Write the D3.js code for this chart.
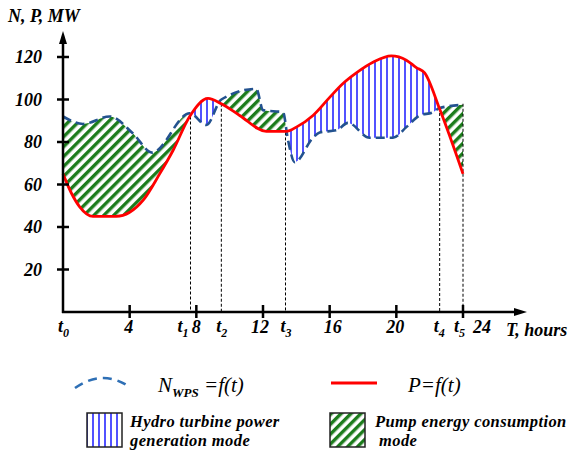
<!DOCTYPE html>
<html>
<head>
<meta charset="utf-8">
<script src="https://cdn.jsdelivr.net/npm/d3@7"></script>
<style>
  body { margin: 0; background: #fff; }
</style>
</head>
<body>
<svg id="chart" width="569" height="452"></svg>
<script>
// P = f(t), load curve
const pHours  = [0, 0.5, 1, 1.8, 3.2, 4.8, 5.8, 6.6, 7.6, 8.7, 9.5, 10.6, 12.2, 13.4, 14.0, 15.0, 16.0, 16.8, 17.6, 18.6, 19.7, 20.6, 21.2, 21.7, 22.6, 24];
const pValues = [65, 56, 49.5, 45, 45, 52.5, 65, 76, 92, 100.5, 98, 92.5, 85, 85, 87, 92.5, 101, 107.5, 112.5, 117.5, 120.5, 118.5, 115, 112.5, 95.5, 65];

// N_WPS = f(t), wind power plant output
const nHours  = [0, 1.2, 2.8, 4.2, 5.35, 7.6, 8.6, 9.5, 11.6, 12.0, 13.2, 13.5, 13.9, 15.0, 15.4, 16.4, 17.1, 18.4, 19.8, 20.6, 21.4, 22.2, 22.6, 24];
const nValues = [92, 88.5, 92, 84, 75, 93.5, 88, 100, 105, 95, 94, 81, 70.5, 82, 84.5, 85.5, 89, 82, 82, 87, 92.5, 94, 96, 97.5];

const yTicks = [20, 40, 60, 80, 100, 120];
const xTicks = [4, 8, 12, 16, 20, 24];
const xTickLabels = ['4', '8', '12', '16', '20', '24'];

// switching moments t0..t5 and the level where the dotted guide starts
const tNames  = ['0', '1', '2', '3', '4', '5'];
const tHours  = [0, 7.65, 9.5, 13.35, 22.6, 24];
const tLevels = [null, 92, 98, 84.5, 96, 98];

const FONT = '"Liberation Serif", "Times New Roman", Times, serif';

// ----------------------------------------------
// Setup
// ----------------------------------------------
const svg = d3.select('#chart');
const x = d3.scaleLinear().domain([0, 24]).range([63, 463]);
const y = d3.scaleLinear().domain([0, 120]).range([312, 57]);
const base = y(0);

const pData = pHours.map((h, i) => ({ h, v: pValues[i] }));
const nData = nHours.map((h, i) => ({ h, v: nValues[i] }));

const defs = svg.append('defs');

const green = defs.append('pattern')
  .attr('id', 'hatchGreen')
  .attr('patternUnits', 'userSpaceOnUse')
  .attr('width', 7).attr('height', 7)
  .attr('patternTransform', 'rotate(45)');
green.append('rect').attr('width', 7).attr('height', 7).attr('fill', '#fff');
green.append('rect').attr('width', 3.4).attr('height', 7).attr('fill', '#1c7c1c');

const blue = defs.append('pattern')
  .attr('id', 'hatchBlue')
  .attr('patternUnits', 'userSpaceOnUse')
  .attr('width', 6).attr('height', 10);
blue.append('rect').attr('width', 6).attr('height', 10).attr('fill', '#fff');
blue.append('line')
  .attr('x1', 3).attr('x2', 3).attr('y1', 0).attr('y2', 10)
  .attr('stroke', '#2626ff').attr('stroke-width', 1.6);

const pCurve = d3.curveMonotoneX;
const nCurve = d3.curveMonotoneX;

// clip regions below / above the wind curve
defs.append('clipPath').attr('id', 'belowN')
  .append('path')
  .attr('d', d3.area().x(d => x(d.h)).y0(base).y1(d => y(d.v)).curve(nCurve)(nData));
defs.append('clipPath').attr('id', 'aboveN')
  .append('path')
  .attr('d', d3.area().x(d => x(d.h)).y0(0).y1(d => y(d.v)).curve(nCurve)(nData));

// ----------------------------------------------
// Mode areas
// ----------------------------------------------
// pump mode: N above P
svg.append('path')
  .attr('d', d3.area().x(d => x(d.h)).y0(0).y1(d => y(d.v)).curve(pCurve)(pData))
  .attr('fill', 'url(#hatchGreen)')
  .attr('clip-path', 'url(#belowN)');

// turbine mode: P above N
svg.append('path')
  .attr('d', d3.area().x(d => x(d.h)).y0(base).y1(d => y(d.v)).curve(pCurve)(pData))
  .attr('fill', 'url(#hatchBlue)')
  .attr('clip-path', 'url(#aboveN)');

// dotted guides
svg.append('g')
  .selectAll('line')
  .data(tHours.map((h, i) => ({ h, v: tLevels[i] })).filter(d => d.v !== null))
  .join('line')
  .attr('x1', d => x(d.h)).attr('x2', d => x(d.h))
  .attr('y1', d => y(d.v)).attr('y2', base)
  .attr('stroke', '#000')
  .attr('stroke-width', 1)
  .attr('stroke-dasharray', '3,2');

// curves
svg.append('path')
  .attr('d', d3.line().x(d => x(d.h)).y(d => y(d.v)).curve(nCurve)(nData))
  .attr('fill', 'none')
  .attr('stroke', '#23528f')
  .attr('stroke-width', 2.6)
  .attr('stroke-dasharray', '9,5');

svg.append('path')
  .attr('d', d3.line().x(d => x(d.h)).y(d => y(d.v)).curve(pCurve)(pData))
  .attr('fill', 'none')
  .attr('stroke', '#ff0000')
  .attr('stroke-width', 2.8);

// ----------------------------------------------
// Axes
// ----------------------------------------------
const axis = svg.append('g').attr('stroke', '#000').attr('stroke-width', 2.5);
axis.append('line').attr('x1', x(0)).attr('x2', x(0)).attr('y1', base + 1).attr('y2', 42);
axis.append('line').attr('x1', x(0) - 1).attr('x2', 517).attr('y1', base).attr('y2', base);
svg.append('path')
  .attr('d', `M${x(0)},31 L${x(0) - 4},44 L${x(0) + 4},44 Z`)
  .attr('fill', '#000');
svg.append('path')
  .attr('d', `M527,${base} L514,${base - 4} L514,${base + 4} Z`)
  .attr('fill', '#000');

axis.selectAll('.ytick')
  .data(yTicks)
  .join('line')
  .attr('x1', x(0) - 6).attr('x2', x(0) + 6)
  .attr('y1', d => y(d)).attr('y2', d => y(d));

axis.selectAll('.xtick')
  .data(xTicks)
  .join('line')
  .attr('x1', d => x(d)).attr('x2', d => x(d))
  .attr('y1', base - 7).attr('y2', base + 6);

const labelStyle = sel => sel
  .style('font-family', FONT)
  .attr('font-size', 18)
  .attr('font-weight', 'bold')
  .attr('font-style', 'italic')
  .attr('fill', '#000');

svg.append('g')
  .selectAll('text')
  .data(yTicks)
  .join('text')
  .attr('x', 42)
  .attr('y', d => y(d) + 6)
  .attr('text-anchor', 'end')
  .call(labelStyle)
  .text(d => d);

// numbers; 24 is pushed right to leave room for t5
const xLabelShift = [-1, 0, -3, 3, -1, 19];
svg.append('g')
  .selectAll('text')
  .data(xTicks)
  .join('text')
  .attr('x', (d, i) => x(d) + xLabelShift[i])
  .attr('y', 333)
  .attr('text-anchor', 'middle')
  .call(labelStyle)
  .text((d, i) => xTickLabels[i]);

// t labels
const tLabelShift = [-5, -13, -5, -5, -6, -9];
const tl = svg.append('g')
  .selectAll('text')
  .data(tNames)
  .join('text')
  .attr('x', (d, i) => x(tHours[i]) + tLabelShift[i])
  .attr('y', 332)
  .call(labelStyle);
tl.append('tspan').text('t');
tl.append('tspan').attr('font-size', 12).attr('dy', 5).text(d => d);

svg.append('text')
  .attr('x', 506).attr('y', 336)
  .call(labelStyle)
  .text('T, hours');

svg.append('text')
  .attr('x', 8).attr('y', 22)
  .call(labelStyle)
  .text('N, P, MW');

// ----------------------------------------------
// Legend
// ----------------------------------------------
svg.append('path')
  .attr('d', 'M75,388 Q102,369 128,386')
  .attr('fill', 'none')
  .attr('stroke', '#2e6fb5')
  .attr('stroke-width', 2.6)
  .attr('stroke-dasharray', '9,6');

const nLeg = svg.append('text')
  .attr('x', 158).attr('y', 392)
  .style('font-family', FONT)
  .attr('font-size', 21)
  .attr('font-style', 'italic');
nLeg.append('tspan').text('N');
nLeg.append('tspan').attr('font-size', 13).attr('font-weight', 'bold').attr('dy', 5).text('WPS');
nLeg.append('tspan').attr('dy', -5).text(' =f(t)');

svg.append('line')
  .attr('x1', 331).attr('x2', 377).attr('y1', 383).attr('y2', 383)
  .attr('stroke', '#ff0000').attr('stroke-width', 3);

svg.append('text')
  .attr('x', 408).attr('y', 392)
  .style('font-family', FONT)
  .attr('font-size', 21)
  .attr('font-style', 'italic')
  .text('P=f(t)');

svg.append('rect')
  .attr('x', 87).attr('y', 413).attr('width', 35).attr('height', 34)
  .attr('fill', 'url(#hatchBlue)')
  .attr('stroke', '#222').attr('stroke-width', 1.5);
svg.append('rect')
  .attr('x', 330).attr('y', 413).attr('width', 35).attr('height', 34)
  .attr('fill', 'url(#hatchGreen)')
  .attr('stroke', '#222').attr('stroke-width', 1.5);

const legText = (tx, ty, s) => svg.append('text')
  .attr('x', tx).attr('y', ty)
  .style('font-family', FONT)
  .attr('font-size', 16.5)
  .attr('letter-spacing', 0.4)
  .attr('font-weight', 'bold')
  .attr('font-style', 'italic')
  .text(s);
legText(130, 427, 'Hydro turbine power');
legText(130, 446, 'generation mode');
legText(375, 427, 'Pump energy consumption');
legText(379, 446, 'mode');
</script>
</body>
</html>
